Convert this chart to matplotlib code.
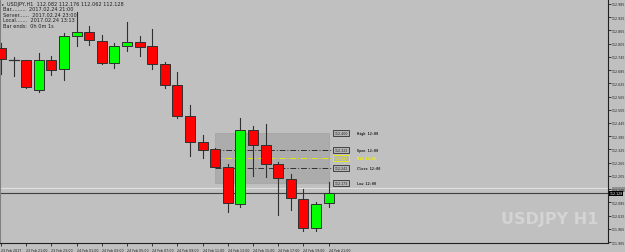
import matplotlib
matplotlib.use('Agg')
import matplotlib.pyplot as plt
from matplotlib.patches import Rectangle

# H1 candles, 23 Feb 2017 19:00 .. 24 Feb 2017 21:00
opens = [112.785, 112.732, 112.731, 112.595, 112.731, 112.690, 112.840, 112.858, 112.817,
         112.717, 112.794, 112.812, 112.794, 112.713, 112.617, 112.477, 112.359, 112.327,
         112.245, 112.077, 112.413, 112.345, 112.259, 112.191, 112.100, 111.969, 112.082]
highs = [112.808, 112.744, 112.733, 112.762, 112.749, 112.853, 112.949, 112.885, 112.844,
         112.808, 112.903, 112.840, 112.871, 112.722, 112.676, 112.527, 112.390, 112.330,
         112.259, 112.468, 112.431, 112.440, 112.268, 112.214, 112.146, 112.087, 112.176]
lows = [112.667, 112.658, 112.604, 112.586, 112.663, 112.640, 112.794, 112.799, 112.713,
        112.694, 112.772, 112.749, 112.690, 112.604, 112.468, 112.295, 112.286, 112.245,
        112.041, 112.064, 112.204, 112.200, 112.028, 112.050, 111.955, 111.955, 112.062]
closes = [112.735, 112.730, 112.608, 112.731, 112.685, 112.840, 112.858, 112.822, 112.717,
          112.794, 112.812, 112.790, 112.713, 112.617, 112.477, 112.359, 112.322, 112.245,
          112.082, 112.413, 112.345, 112.259, 112.195, 112.105, 111.969, 112.077, 112.128]

time_labels = ['23 Feb 2017', '23 Feb 21:00', '23 Feb 23:00', '24 Feb 01:00', '24 Feb 03:00',
               '24 Feb 05:00', '24 Feb 07:00', '24 Feb 09:00', '24 Feb 11:00', '24 Feb 13:00',
               '24 Feb 15:00', '24 Feb 17:00', '24 Feb 19:00', '24 Feb 21:00']
price_ticks = [111.905 + 0.06 * k for k in range(19)]

# range of the 12:00 bar
range_names = ['High 12:00', 'Open 12:00', 'Mid 12:00', 'Close 12:00', 'Low 12:00']
range_values = [112.400, 112.322, 112.287, 112.241, 112.173]
range_start, range_end = 17, 26

bid, ask = 112.128, 112.145

BG = '#c0c0c0'
BULL = '#00ff00'
BEAR = '#ff0000'
FS = 2.3


def main():
    fig = plt.figure(figsize=(6.25, 2.53), dpi=100, facecolor=BG)
    ax = fig.add_axes([0, 9 / 253, 608 / 625, 244 / 253], facecolor=BG)

    ax.set_xlim(-0.08, 48.17)
    ax.set_ylim(111.9005, 113.0075)

    # range box and level lines
    lo, hi = range_values[4], range_values[0]
    ax.add_patch(Rectangle((range_start, lo), range_end - range_start, hi - lo,
                           facecolor='#000000', alpha=0.1, edgecolor='#303030', lw=0.8, zorder=1))
    for name, val in zip(range_names, range_values):
        mid = name.startswith('Mid')
        col = '#e8e800' if mid else '#303030'
        if name.split()[0] in ('Open', 'Mid', 'Close'):
            ax.plot([range_start, range_end + 0.35], [val, val], color=col, lw=0.7,
                    ls=(0, (6, 2, 1, 2)), zorder=1)
        tcol = '#f0f000' if mid else '#202020'
        ax.text(26.45, val, '%.3f' % val, fontsize=FS, color=tcol, va='center', ha='left',
                bbox=dict(boxstyle='square,pad=0.3', fc='#b4b4b4',
                          ec='#f0f000' if mid else '#303030', lw=0.6))
        ax.text(28.25, val, name, fontsize=2.5, color=tcol, va='center', ha='left',
                family='DejaVu Sans Mono', fontweight='bold')

    # price lines
    ax.axhline(ask, color='#e0e0e0', lw=1.6, zorder=0.5)
    ax.axhline(ask, color='#a8a8a8', lw=0.4, zorder=0.6)
    ax.axhline(bid, color='#404040', lw=0.8, zorder=0.5)

    # candles
    w = 0.79
    for i in range(len(opens)):
        o, h, l, c = opens[i], highs[i], lows[i], closes[i]
        ax.plot([i, i], [l, h], color='#303030', lw=0.8, zorder=2)
        col = BULL if c >= o else BEAR
        body = abs(c - o)
        if body < 0.003:
            ax.plot([i - w / 2, i + w / 2], [o, o], color='#303030', lw=0.9, zorder=3)
        else:
            ax.add_patch(Rectangle((i - w / 2, min(o, c)), w, body, facecolor=col,
                                   edgecolor='#303030', lw=0.7, zorder=3))

    # axes look
    ax.spines['top'].set_visible(False)
    ax.spines['left'].set_color('#808080')
    ax.spines['left'].set_linewidth(1.5)
    ax.spines['right'].set_color('#202020')
    ax.spines['bottom'].set_color('#202020')
    ax.spines['right'].set_linewidth(0.8)
    ax.spines['bottom'].set_linewidth(0.8)

    ax.yaxis.tick_right()
    ax.set_yticks(price_ticks)
    ax.set_yticklabels(['%.3f' % p for p in price_ticks])
    ax.tick_params(axis='y', direction='out', length=2, width=0.6, labelsize=FS,
                   colors='#202020', pad=1)
    # the ask level sits on a grid price: give that label the ask colouring
    for p, lab in zip(price_ticks, ax.get_yticklabels()):
        if abs(p - ask) < 0.001:
            lab.set_bbox(dict(boxstyle='square,pad=0.15', fc='#909090', ec='none'))

    ax.set_xticks(range(0, 27, 2))
    ax.set_xticklabels(time_labels)
    ax.tick_params(axis='x', direction='out', length=2.5, width=0.6, labelsize=FS,
                   colors='#202020', pad=1)
    for lab in ax.get_xticklabels():
        lab.set_ha('left')

    # bid label on the price scale
    ax.text(48.3, bid - 0.002, '%.3f' % bid, fontsize=FS, color='#ffffff', va='center',
            ha='left', bbox=dict(boxstyle='square,pad=0.15', fc='#000000', ec='none'),
            clip_on=False)

    # info panel
    info = ['USDJPY,H1  112.082 112.176 112.062 112.128',
            'Bar.........  2017.02.24 21:00',
            'Server......  2017.02.24 23:00',
            'Local.......  2017.02.24 13:13',
            'Bar ends:  0h 0m 1s']
    fig.text(2 / 625, 1 - 4 / 253, '\u25b8', fontsize=3.0, color='#303030',
             va='center', ha='left')
    for k, line in enumerate(info):
        fig.text(7 / 625 if k == 0 else 3 / 625, 1 - (4.5 + 5.4 * k) / 253, line,
                 fontsize=3.6, color='#202020', va='center', ha='left')

    fig.text(550 / 625, 1 - 220 / 253, 'USDJPY H1', fontsize=11.5, fontweight='bold',
             color='#d4d4d4', ha='center', va='center',
             family=['Liberation Sans Narrow', 'DejaVu Sans'])

    fig.savefig('out.png', dpi=100, facecolor=BG)


if __name__ == "__main__":
    main()
